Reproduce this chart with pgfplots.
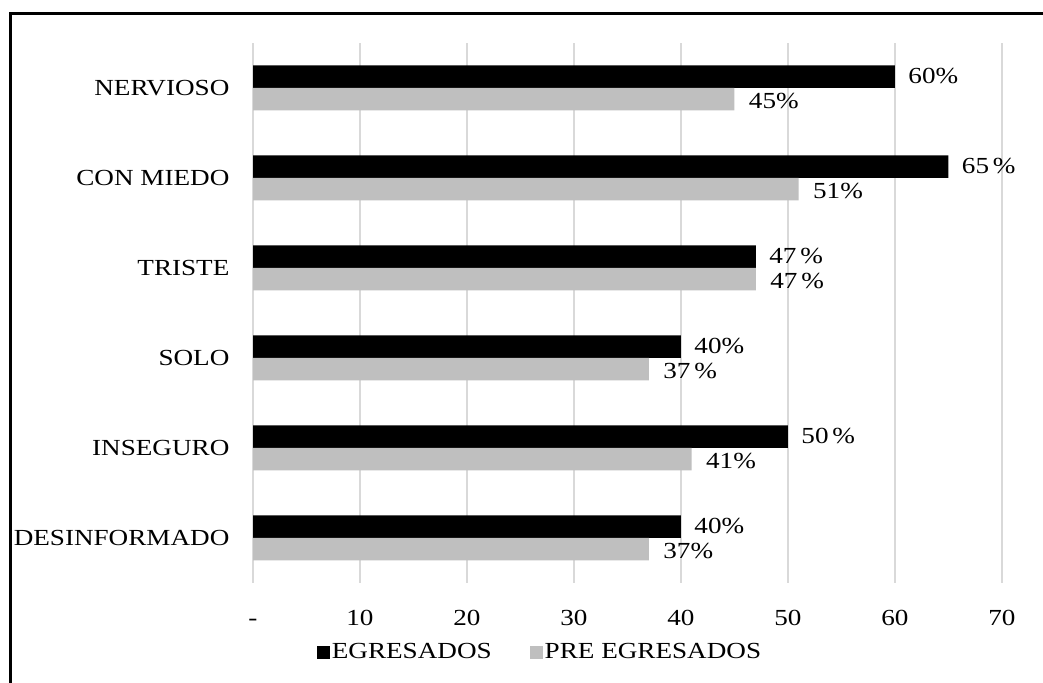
\documentclass[border=0pt]{standalone}
\usepackage{pgfplots}
\pgfplotsset{compat=1.18}
\usepackage{fontspec}
\setmainfont{Liberation Serif}[FakeStretch=1.18]
\newcommand\cf{\fontsize{11.5}{13.5}\selectfont}
\definecolor{pregray}{RGB}{191,191,191}
\definecolor{gridgray}{RGB}{217,217,217}
\begin{document}
\begin{tikzpicture}
\useasboundingbox (0pt,0pt) rectangle (521.5pt,341.5pt);
\draw[line width=1.5pt] (5pt,0pt) -- (5pt,334.5pt) -- (521.5pt,334.5pt);
\begin{axis}[
  at={(126.5pt,50pt)}, anchor=south west,
  width=374.5pt, height=270pt, scale only axis,
  xmin=0, xmax=70, ymin=-0.5, ymax=5.5,
  xtick={0,10,...,70}, xticklabels={\vphantom{0}-,10,20,30,40,50,60,70},
  ytick={0,...,5},
  yticklabels={DESINFORMADO,INSEGURO,SOLO,TRISTE,CON MIEDO,NERVIOSO},
  xmajorgrids, major grid style={gridgray, line width=1pt},
  axis line style={draw=none}, tick style={draw=none},
  xticklabel style={font=\cf, yshift=-10pt},
  yticklabel style={font=\cf, xshift=-4pt},
  clip=false,
  xbar, bar width=0.25,
  nodes near coords, point meta=explicit symbolic,
  every node near coord/.append style={font=\cf, anchor=west},
  legend columns=2,
  legend style={at={(0.3845,-0.1278)}, anchor=center, draw=none, fill=none, font=\cf,
    /tikz/every even column/.append style={column sep=17pt},
    /tikz/every odd column/.append style={column sep=-1pt}},
  legend image code/.code={\fill[#1] (0pt,-3.25pt) rectangle (6.5pt,3.25pt);},
]
\addplot[fill=black, draw=none, bar shift=0.125,
  every node near coord/.append style={xshift=3.2pt, yshift=0.5pt}] coordinates {
  (60,5) [60\%]
  (65,4) [65\,\%]
  (47,3) [47\,\%]
  (40,2) [40\%]
  (50,1) [50\,\%]
  (40,0) [40\%]
};
\addlegendentry{EGRESADOS}
\addplot[fill=pregray, draw=none, bar shift=-0.125,
  every node near coord/.append style={xshift=3.7pt, yshift=-1pt}] coordinates {
  (45,5) [45\%]
  (51,4) [51\%]
  (47,3) [47\,\%]
  (37,2) [37\,\%]
  (41,1) [41\%]
  (37,0) [37\%]
};
\addlegendentry{PRE EGRESADOS}
\end{axis}
\end{tikzpicture}
\end{document}
